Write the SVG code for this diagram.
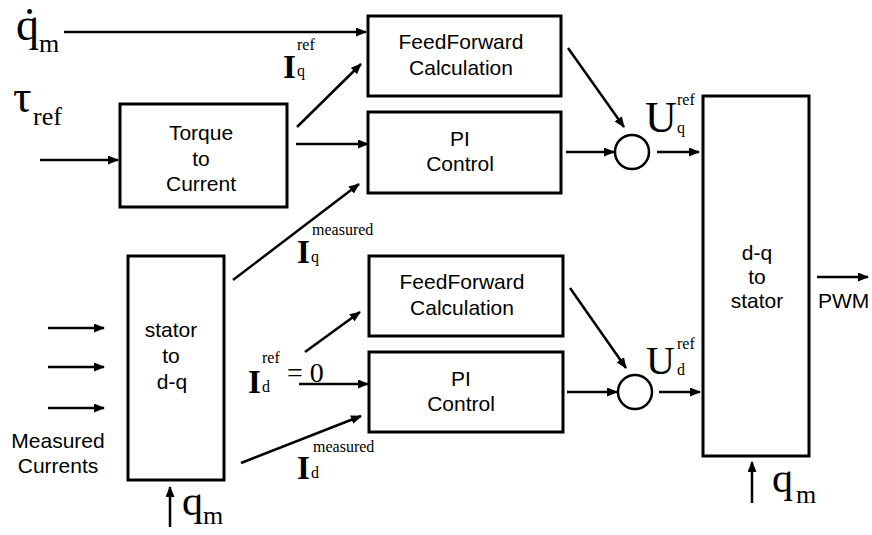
<svg xmlns="http://www.w3.org/2000/svg" width="872" height="535" viewBox="0 0 872 535">
<defs>
<marker id="ah" markerUnits="userSpaceOnUse" markerWidth="11" markerHeight="9" refX="10" refY="4.5" orient="auto">
<path d="M0,0 L11,4.5 L0,9 z" fill="#000"/>
</marker>
<style>
.box{fill:#fff;stroke:#000;stroke-width:3}
.sum{fill:none;stroke:#000;stroke-width:2.5}
.ln{fill:none;stroke:#000;stroke-width:2.5;marker-end:url(#ah)}
.t{font-family:"Liberation Sans",Arial,sans-serif;font-size:21px;text-anchor:middle;fill:#000}
.m{font-family:"Liberation Serif","Times New Roman",serif;fill:#000}
.b{font-weight:bold;font-size:33px}
</style>
</defs>
<rect width="872" height="535" fill="#fff"/>

<g id="ff_top"><rect class="box" x="368" y="16" width="193" height="80"/>
<text class="t" x="461" y="49">FeedForward</text><text class="t" x="461" y="75">Calculation</text></g>
<g id="pi_top"><rect class="box" x="368" y="112" width="193" height="81"/>
<text class="t" x="460" y="146">PI</text><text class="t" x="460" y="171">Control</text></g>
<g id="torque"><rect class="box" x="120" y="104" width="167" height="103"/>
<text class="t" x="201" y="140">Torque</text><text class="t" x="201" y="166">to</text><text class="t" x="201" y="191">Current</text></g>
<g id="stator2dq"><rect class="box" x="128" y="256" width="96" height="224"/>
<text class="t" x="171" y="337">stator</text><text class="t" x="171" y="363">to</text><text class="t" x="172" y="389">d-q</text></g>
<g id="ff_bot"><rect class="box" x="369" y="256" width="194" height="80"/>
<text class="t" x="462" y="289">FeedForward</text><text class="t" x="462" y="315">Calculation</text></g>
<g id="pi_bot"><rect class="box" x="369" y="352" width="194" height="80"/>
<text class="t" x="461" y="386">PI</text><text class="t" x="461" y="411">Control</text></g>
<g id="dq2stator"><rect class="box" x="703" y="96" width="106" height="360"/>
<text class="t" x="757" y="260">d-q</text><text class="t" x="757" y="284">to</text><text class="t" x="757" y="308">stator</text></g>
<g id="sum_top"><circle class="sum" cx="632" cy="152" r="17"/></g>
<g id="sum_bot"><circle class="sum" cx="635" cy="392" r="17"/></g>

<g id="connectors">
<line class="ln" x1="64" y1="32" x2="366" y2="32"/>
<line class="ln" x1="297" y1="127" x2="361" y2="64"/>
<line class="ln" x1="296" y1="144" x2="368" y2="144"/>
<line class="ln" x1="40" y1="160" x2="118" y2="160"/>
<line class="ln" x1="233" y1="280" x2="359" y2="184"/>
<line class="ln" x1="568" y1="48" x2="624" y2="127"/>
<line class="ln" x1="566" y1="152" x2="614" y2="152"/>
<line class="ln" x1="657" y1="152" x2="699" y2="152"/>
<line class="ln" x1="305" y1="352" x2="360" y2="312"/>
<line class="ln" x1="299" y1="384" x2="368" y2="384"/>
<line class="ln" x1="241" y1="463" x2="361" y2="416"/>
<line class="ln" x1="570" y1="288" x2="626" y2="368"/>
<line class="ln" x1="567" y1="392" x2="617" y2="392"/>
<line class="ln" x1="659" y1="392" x2="700" y2="392"/>
<line class="ln" x1="817" y1="277" x2="868" y2="277"/>
<line class="ln" x1="752" y1="503" x2="752" y2="462"/>
<line class="ln" x1="48" y1="328" x2="104" y2="328"/>
<line class="ln" x1="48" y1="367" x2="104" y2="367"/>
<line class="ln" x1="48" y1="408" x2="104" y2="408"/>
<line class="ln" x1="170" y1="527" x2="170" y2="487"/>
</g>

<g id="labels">
<text class="m" x="16" y="40" font-size="46">q̇</text><text class="m" x="39" y="52" font-size="26">m</text>
<text class="m" x="13" y="112" font-size="46">τ</text><text class="m" x="33" y="125" font-size="26">ref</text>
<text class="m b" x="283" y="78">I</text><text class="m" x="297" y="50" font-size="16">ref</text><text class="m" x="297" y="76" font-size="16">q</text>
<text class="m b" x="297" y="263">I</text><text class="m" x="312" y="235" font-size="16">measured</text><text class="m" x="311" y="262" font-size="16">q</text>
<text class="m b" x="248" y="393">I</text><text class="m" x="262" y="363" font-size="16">ref</text><text class="m" x="262" y="392" font-size="16">d</text><text class="m" x="287" y="382" font-size="28">= 0</text>
<text class="m b" x="297" y="479">I</text><text class="m" x="313" y="452" font-size="16">measured</text><text class="m" x="311" y="478" font-size="16">d</text>
<text class="m" x="645" y="132" font-size="44">U</text><text class="m" x="677" y="105" font-size="16">ref</text><text class="m" x="677" y="133" font-size="16">q</text>
<text class="m" x="646" y="374" font-size="40">U</text><text class="m" x="677" y="349" font-size="16">ref</text><text class="m" x="677" y="375" font-size="16">d</text>
<text class="m" x="772" y="492" font-size="42">q</text><text class="m" x="796" y="503" font-size="26">m</text>
<text class="m" x="182" y="515" font-size="42">q</text><text class="m" x="203" y="524" font-size="26">m</text>
<text class="t" x="818" y="308" style="text-anchor:start">PWM</text>
<text class="t" x="58" y="448">Measured</text><text class="t" x="58" y="473">Currents</text>
</g>
</svg>
